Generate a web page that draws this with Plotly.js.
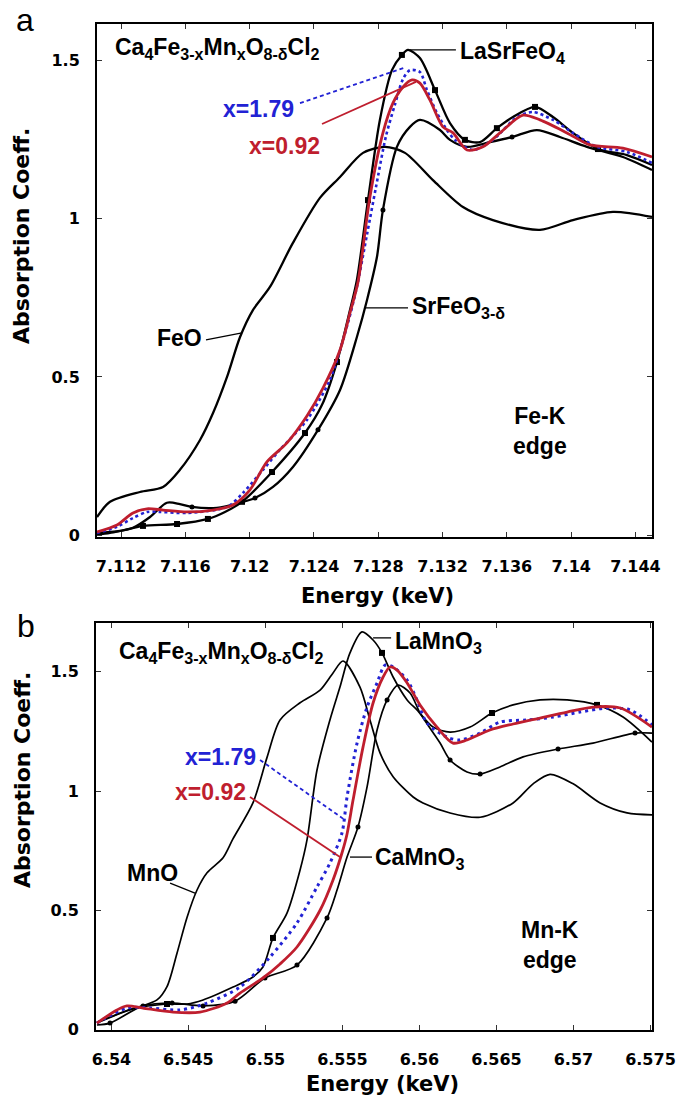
<!DOCTYPE html>
<html><head><meta charset="utf-8">
<script src="https://cdn.plot.ly/plotly-3.0.1.min.js"></script>
<style>html,body{margin:0;padding:0;background:#fff}#chart{width:680px;height:1095px}</style>
</head><body><div id="chart"></div>
<script>
// ---------- Panel a : Fe-K edge (energy in keV, absorption coeff.) ----------
const feO_E = [7.11050,7.11131,7.11317,7.11461,7.11566,7.11691,7.11772,7.11859,7.11940,7.12020,7.12126,7.12269,7.12437,7.12562,7.12705,7.12842,7.12966,7.13140,7.13327,7.13513,7.13806,7.14011,7.14260,7.14503];
const feO_A = [0.058,0.106,0.137,0.153,0.207,0.301,0.386,0.500,0.626,0.711,0.784,0.923,1.065,1.131,1.207,1.226,1.207,1.121,1.036,0.995,0.964,0.995,1.021,1.005];

const laSrFeO4_E = [7.11050,7.11193,7.11336,7.11548,7.11740,7.11846,7.11952,7.12139,7.12344,7.12450,7.12543,7.12624,7.12667,7.12736,7.12810,7.12885,7.12947,7.12985,7.13059,7.13153,7.13246,7.13339,7.13433,7.13538,7.13638,7.13775,7.13887,7.14011,7.14167,7.14347,7.14503];
const laSrFeO4_A = [0.008,0.014,0.030,0.036,0.052,0.074,0.106,0.200,0.323,0.412,0.547,0.711,0.806,1.058,1.311,1.468,1.516,1.532,1.506,1.405,1.301,1.248,1.241,1.285,1.320,1.352,1.320,1.270,1.219,1.200,1.169];
const laSrFeO4_marks = [2,3,4,6,7,8,10,13,16,19,21,23,25,28];

const srFeO3_E = [7.11050,7.11131,7.11274,7.11380,7.11485,7.11566,7.11641,7.11796,7.11940,7.12033,7.12145,7.12269,7.12425,7.12562,7.12667,7.12730,7.12792,7.12829,7.12916,7.12997,7.13059,7.13184,7.13246,7.13352,7.13495,7.13632,7.13787,7.13930,7.14098,7.14322,7.14503];
const srFeO3_A = [0.002,0.008,0.024,0.058,0.103,0.099,0.090,0.087,0.103,0.118,0.153,0.216,0.333,0.459,0.626,0.743,0.879,1.027,1.226,1.289,1.311,1.279,1.248,1.226,1.241,1.257,1.279,1.257,1.226,1.194,1.153];
const srFeO3_marks = [6,9,12,17,25];

const feX092_E = [7.11050,7.11174,7.11274,7.11361,7.11461,7.11610,7.11772,7.11896,7.12002,7.12107,7.12232,7.12356,7.12456,7.12562,7.12624,7.12674,7.12748,7.12829,7.12891,7.12954,7.13010,7.13059,7.13121,7.13202,7.13265,7.13352,7.13451,7.13557,7.13700,7.13806,7.13974,7.14117,7.14322,7.14503];
const feX092_A = [0.011,0.033,0.071,0.084,0.080,0.074,0.080,0.096,0.144,0.232,0.292,0.377,0.465,0.585,0.702,0.800,1.068,1.270,1.364,1.415,1.437,1.427,1.374,1.289,1.270,1.216,1.226,1.270,1.326,1.311,1.270,1.232,1.222,1.194];

const feX179_E = [7.11050,7.11174,7.11274,7.11361,7.11442,7.11610,7.11859,7.11958,7.12083,7.12188,7.12356,7.12499,7.12611,7.12667,7.12730,7.12786,7.12848,7.12904,7.12954,7.12997,7.13059,7.13103,7.13165,7.13227,7.13277,7.13389,7.13513,7.13663,7.13762,7.13887,7.14011,7.14160,7.14347,7.14503];
const feX179_A = [0.008,0.027,0.055,0.074,0.074,0.071,0.090,0.134,0.207,0.270,0.364,0.491,0.670,0.784,0.950,1.100,1.260,1.360,1.440,1.468,1.462,1.405,1.333,1.279,1.248,1.216,1.248,1.320,1.336,1.311,1.270,1.226,1.210,1.175];

const feTicks = [7.112,7.116,7.12,7.124,7.128,7.132,7.136,7.14,7.144];
const feTickText = ["7.112","7.116","7.12","7.124","7.128","7.132","7.136","7.14","7.144"];

// ---------- Panel b : Mn-K edge ----------
const mnO_E = [6.53906,6.54101,6.54205,6.54296,6.54361,6.54426,6.54491,6.54556,6.54621,6.54725,6.54790,6.54919,6.55010,6.55095,6.55225,6.55355,6.55439,6.55504,6.55614,6.55679,6.55744,6.55829,6.55959,6.56023,6.56199,6.56394,6.56608,6.56738,6.56848,6.56998,6.57173,6.57348,6.57510];
const mnO_A = [0.030,0.080,0.100,0.124,0.180,0.320,0.470,0.585,0.657,0.720,0.800,0.950,1.140,1.298,1.370,1.423,1.495,1.545,1.436,1.298,1.160,1.060,0.975,0.950,0.908,0.890,0.950,1.030,1.070,1.030,0.950,0.908,0.900];

const laMnO3_E = [6.53906,6.54140,6.54361,6.54491,6.54595,6.54790,6.54919,6.54984,6.55049,6.55140,6.55225,6.55270,6.55335,6.55419,6.55484,6.55549,6.55627,6.55699,6.55757,6.55829,6.55920,6.55984,6.56088,6.56199,6.56329,6.56471,6.56608,6.56783,6.56959,6.57153,6.57322,6.57510];
const laMnO3_A = [0.027,0.086,0.107,0.107,0.124,0.178,0.220,0.262,0.384,0.488,0.669,0.795,1.088,1.298,1.436,1.579,1.667,1.633,1.579,1.478,1.382,1.340,1.268,1.247,1.268,1.327,1.361,1.382,1.382,1.361,1.310,1.205];
const laMnO3_marks = [2,8,18,25,29];

const caMnO3_E = [6.53906,6.53991,6.54205,6.54394,6.54595,6.54803,6.54997,6.55205,6.55400,6.55465,6.55530,6.55601,6.55660,6.55725,6.55790,6.55861,6.55939,6.56004,6.56134,6.56199,6.56309,6.56394,6.56523,6.56673,6.56900,6.57127,6.57400,6.57510];
const caMnO3_A = [0.019,0.027,0.099,0.111,0.099,0.119,0.216,0.270,0.468,0.585,0.723,0.849,1.017,1.256,1.382,1.444,1.411,1.327,1.201,1.130,1.080,1.071,1.101,1.143,1.176,1.201,1.243,1.243];
const caMnO3_marks = [1,2,3,4,5,6,7,8,11,14,19,21,24,26];

const mnX092_E = [6.53906,6.54036,6.54101,6.54205,6.54400,6.54575,6.54751,6.54835,6.54984,6.55095,6.55205,6.55355,6.55439,6.55497,6.55530,6.55569,6.55634,6.55699,6.55764,6.55809,6.55855,6.55920,6.56004,6.56114,6.56218,6.56309,6.56458,6.56608,6.56783,6.56959,6.57127,6.57303,6.57510];
const mnX092_A = [0.027,0.082,0.099,0.090,0.073,0.073,0.111,0.153,0.216,0.275,0.346,0.500,0.627,0.740,0.820,0.962,1.185,1.369,1.478,1.520,1.507,1.453,1.361,1.268,1.201,1.214,1.256,1.281,1.306,1.331,1.352,1.348,1.268];

const mnX179_E = [6.53906,6.54101,6.54251,6.54445,6.54621,6.54835,6.55030,6.55205,6.55335,6.55419,6.55497,6.55530,6.55595,6.55660,6.55725,6.55777,6.55829,6.55920,6.55984,6.56049,6.56179,6.56264,6.56394,6.56523,6.56699,6.56868,6.57043,6.57218,6.57368,6.57510];
const mnX179_A = [0.027,0.090,0.090,0.082,0.111,0.178,0.304,0.447,0.598,0.698,0.824,0.975,1.201,1.352,1.453,1.528,1.520,1.465,1.382,1.285,1.226,1.214,1.243,1.289,1.298,1.310,1.331,1.348,1.340,1.277];

const mnTicks = [6.54,6.545,6.55,6.555,6.56,6.565,6.57,6.575];
const mnTickText = ["6.54","6.545","6.55","6.555","6.56","6.565","6.57","6.575"];
const absTicks = [0,0.5,1,1.5];
const absTickText = ["0","0.5","1","1.5"];

// ---------- styling ----------
const RED = '#bf1e2e', BLUE = '#2222d4', BLACK = '#000';
const W = 680, H = 1095;
const px = v => v / W, py = v => 1 - v / H;

function line(xs, ys, color, width, xa, ya, dash) {
  return {x: xs, y: ys, xaxis: xa, yaxis: ya, mode: 'lines', type: 'scatter',
    line: {color: color, width: width, shape: 'spline', smoothing: 0.8, dash: dash || 'solid'},
    hoverinfo: 'skip', showlegend: false};
}
function marks(xs, ys, idx, symbol, size, xa, ya) {
  return {x: idx.map(i => xs[i]), y: idx.map(i => ys[i]), xaxis: xa, yaxis: ya,
    mode: 'markers', type: 'scatter', marker: {symbol: symbol, size: size, color: BLACK},
    hoverinfo: 'skip', showlegend: false};
}

const data = [
  line(feO_E, feO_A, BLACK, 2.3, 'x', 'y'),
  line(srFeO3_E, srFeO3_A, BLACK, 2.3, 'x', 'y'),
  line(laSrFeO4_E, laSrFeO4_A, BLACK, 2.3, 'x', 'y'),
  marks(srFeO3_E, srFeO3_A, srFeO3_marks, 'circle', 5, 'x', 'y'),
  marks(laSrFeO4_E, laSrFeO4_A, laSrFeO4_marks, 'square', 6, 'x', 'y'),
  line(feX179_E, feX179_A, BLUE, 2.6, 'x', 'y', '3px,3px'),
  line(feX092_E, feX092_A, RED, 2.8, 'x', 'y'),

  line(mnO_E, mnO_A, BLACK, 1.7, 'x2', 'y2'),
  line(laMnO3_E, laMnO3_A, BLACK, 1.7, 'x2', 'y2'),
  line(caMnO3_E, caMnO3_A, BLACK, 1.7, 'x2', 'y2'),
  marks(laMnO3_E, laMnO3_A, laMnO3_marks, 'square', 6, 'x2', 'y2'),
  marks(caMnO3_E, caMnO3_A, caMnO3_marks, 'circle', 5, 'x2', 'y2'),
  line(mnX179_E, mnX179_A, BLUE, 3, 'x2', 'y2', '3px,4px'),
  line(mnX092_E, mnX092_A, RED, 2.8, 'x2', 'y2')
];

const tickFont = {family: 'DejaVu Sans', size: 16, color: BLACK, weight: 'bold'};
function xAxis(domain, range, tv, tt, anchor) {
  return {domain: domain, range: range, anchor: anchor, tickvals: tv, ticktext: tt,
    ticks: 'inside', ticklen: 5, tickwidth: 1, tickcolor: '#333', mirror: 'ticks',
    showline: true, linewidth: 2, linecolor: BLACK, showgrid: false, zeroline: false,
    tickfont: tickFont, ticklabelstandoff: 14, fixedrange: true};
}
function yAxis(domain, range, anchor) {
  return {domain: domain, range: range, anchor: anchor, tickvals: absTicks, ticktext: absTickText,
    ticks: 'inside', ticklen: 5, tickwidth: 1, tickcolor: '#333', mirror: 'ticks',
    showline: true, linewidth: 2, linecolor: BLACK, showgrid: false, zeroline: false,
    tickfont: tickFont, ticklabelstandoff: 12, fixedrange: true};
}

const lblFont = (c) => ({family: 'Liberation Sans, Arial, sans-serif', size: 23, color: c, weight: 'bold'});
function txt(text, x, y, xanchor, font, extra) {
  return Object.assign({text: text, xref: 'paper', yref: 'paper', x: px(x), y: py(y),
    xanchor: xanchor, yanchor: 'middle', showarrow: false, font: font}, extra || {});
}
const titleFont = {family: 'DejaVu Sans', size: 21, color: BLACK, weight: 'bold'};
const formula = 'Ca<sub>4</sub>Fe<sub>3-x</sub>Mn<sub>x</sub>O<sub>8-δ</sub>Cl<sub>2</sub>';

const annotations = [
  txt('a', 25, 20, 'center', {family: 'Liberation Sans, Arial, sans-serif', size: 32, color: BLACK}),
  txt('b', 26, 626, 'center', {family: 'Liberation Sans, Arial, sans-serif', size: 32, color: BLACK}),
  txt('Energy (keV)', 377, 596, 'center', titleFont),
  txt('Energy (keV)', 382, 1084, 'center', titleFont),
  txt('Absorption Coeff.', 22, 236, 'center', Object.assign({}, titleFont, {size: 22}), {textangle: -90}),
  txt('Absorption Coeff.', 22, 780, 'center', Object.assign({}, titleFont, {size: 22}), {textangle: -90}),
  // panel a labels
  txt(formula, 113, 49, 'left', lblFont(BLACK)),
  txt('LaSrFeO<sub>4</sub>', 458, 53, 'left', lblFont(BLACK)),
  txt('x=1.79', 296, 109, 'right', lblFont(BLUE)),
  txt('x=0.92', 322, 146, 'right', lblFont(RED)),
  txt('FeO', 204, 338, 'right', lblFont(BLACK)),
  txt('SrFeO<sub>3-δ</sub>', 410, 307, 'left', lblFont(BLACK)),
  txt('Fe-K<br>edge', 540, 431, 'center', lblFont(BLACK), {align: 'center'}),
  // panel b labels
  txt(formula, 117, 652, 'left', lblFont(BLACK)),
  txt('LaMnO<sub>3</sub>', 393, 642, 'left', lblFont(BLACK)),
  txt('x=1.79', 258, 757, 'right', lblFont(BLUE)),
  txt('x=0.92', 248, 792, 'right', lblFont(RED)),
  txt('CaMnO<sub>3</sub>', 373, 858, 'left', lblFont(BLACK)),
  txt('MnO', 180, 873, 'right', lblFont(BLACK)),
  txt('Mn-K<br>edge', 550, 945, 'center', lblFont(BLACK), {align: 'center'})
];

function seg(xa, ya, x0, y0, x1, y1, color, width, dash) {
  return {type: 'line', xref: xa, yref: ya, x0: x0, y0: y0, x1: x1, y1: y1,
    line: {color: color, width: width, dash: dash || 'solid'}};
}
const shapes = [
  seg('x', 'y', 7.12313, 1.364, 7.12960, 1.475, BLUE, 1.8, '4px,3px'),
  seg('x', 'y', 7.12450, 1.298, 7.13034, 1.431, RED, 1.8),
  seg('x', 'y', 7.12997, 1.532, 7.13283, 1.532, BLACK, 1.3),
  seg('x', 'y', 7.11728, 0.617, 7.11952, 0.639, BLACK, 1.3),
  seg('x', 'y', 7.12717, 0.718, 7.12985, 0.718, BLACK, 1.3),
  seg('x2', 'y2', 6.54965, 1.130, 6.55517, 0.878, BLUE, 1.8, '4px,3px'),
  seg('x2', 'y2', 6.54900, 0.975, 6.55484, 0.723, RED, 1.8),
  seg('x2', 'y2', 6.55699, 1.642, 6.55816, 1.642, BLACK, 1.3),
  seg('x2', 'y2', 6.55549, 0.723, 6.55692, 0.723, BLACK, 1.3),
  seg('x2', 'y2', 6.54381, 0.614, 6.54543, 0.572, BLACK, 1.3)
];

const layout = {
  width: W, height: H, margin: {l: 0, r: 0, t: 0, b: 0},
  paper_bgcolor: '#fff', plot_bgcolor: '#fff', showlegend: false,
  xaxis: xAxis([97 / W, 652 / W], [7.1105, 7.14503], feTicks, feTickText, 'y'),
  yaxis: yAxis([1 - 537 / H, 1 - 24 / H], [-0.005, 1.6136], 'x'),
  xaxis2: xAxis([96 / W, 652 / W], [6.539, 6.5751], mnTicks, mnTickText, 'y2'),
  yaxis2: yAxis([1 - 1030 / H, 1 - 623 / H], [-0.002, 1.7044], 'x2'),
  annotations: annotations, shapes: shapes
};

Plotly.newPlot('chart', data, layout, {staticPlot: true, displayModeBar: false});
</script>
</body></html>
